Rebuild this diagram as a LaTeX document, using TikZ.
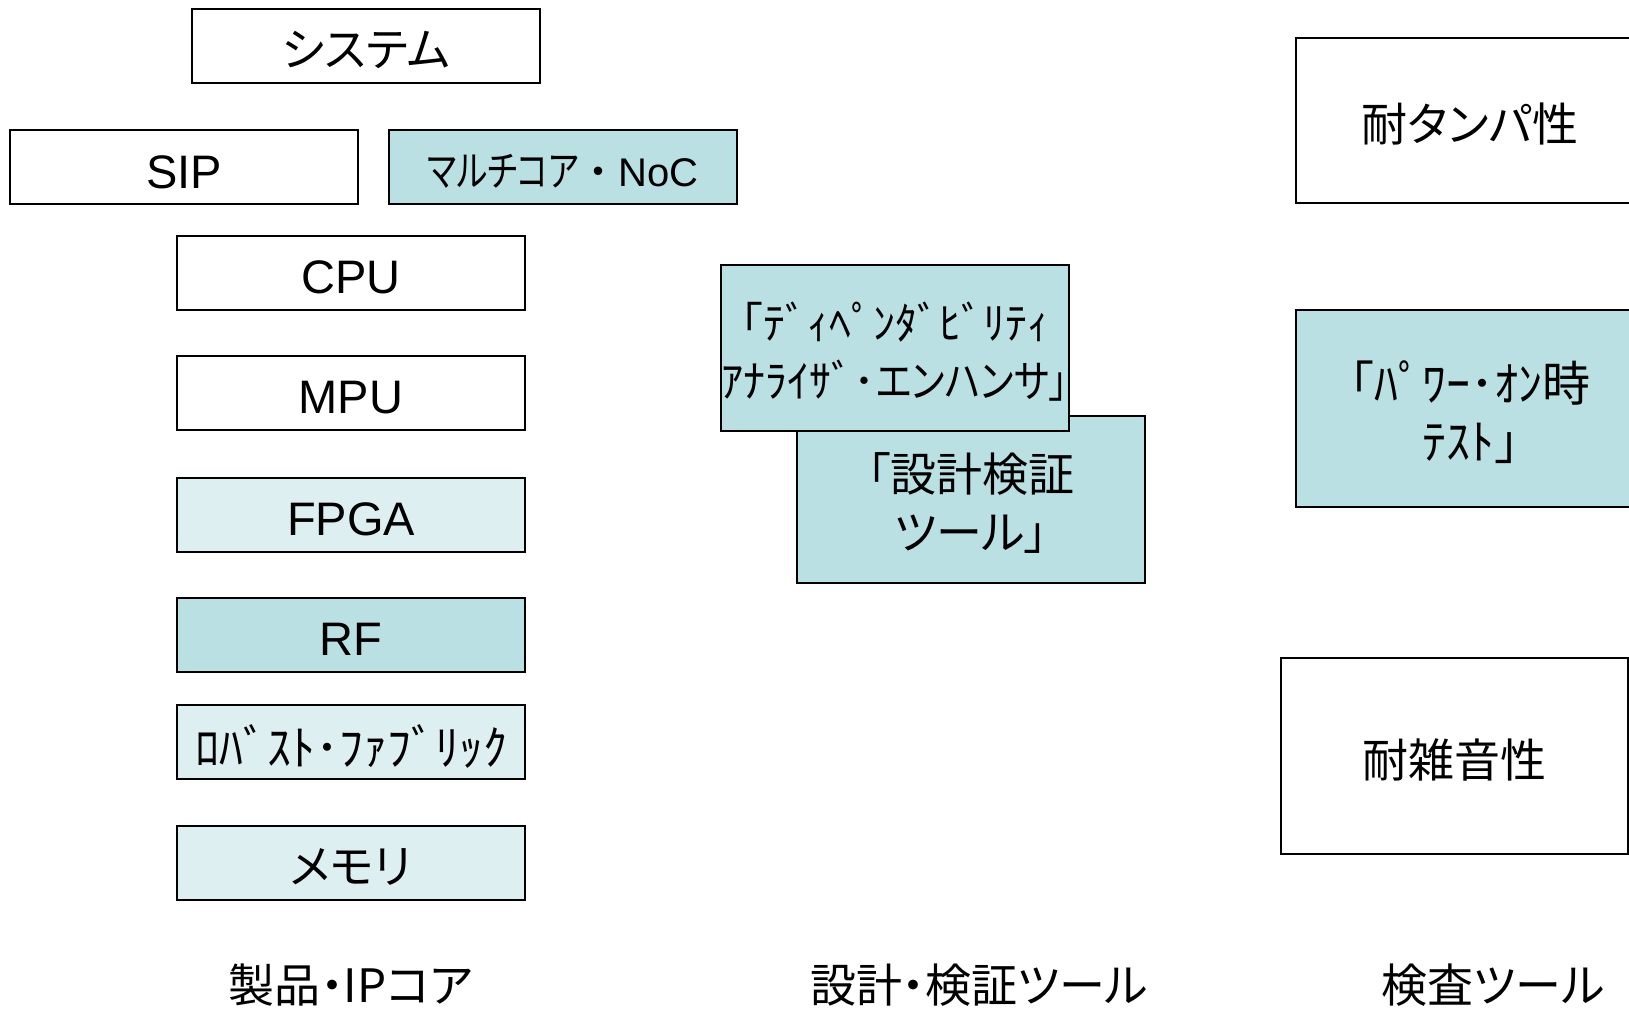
\documentclass[tikz,border=0pt]{standalone}
\usepackage{graphicx}
\usepackage{fontspec}
\setmainfont{Liberation Sans}
\newfontfamily\jp[RawFeature={+palt}]{Noto Sans CJK JP}
\newfontfamily\jph{Noto Sans CJK JP}
\definecolor{tealfill}{RGB}{186,224,227}
\definecolor{lightfill}{RGB}{222,239,242}
\begin{document}
\begin{tikzpicture}[x=0.5pt,y=-0.5pt,
  box/.style={draw=black,line width=1pt,inner sep=0pt,minimum width=174pt,minimum height=37pt},
  txt/.style={inner sep=0pt,align=center},
  lat/.style={txt,font=\fontsize{23.5}{29}\selectfont},
  jpt/.style={txt,font=\jp\fontsize{23}{29}\selectfont},
  jph/.style={txt,font=\jph\fontsize{23}{29}\selectfont},
  tealbox/.style={fill=tealfill},
  lightbox/.style={fill=lightfill},
  lbl/.style={inner sep=0pt,font=\jp\fontsize{23}{29}\selectfont}]
\useasboundingbox[fill=white] (0,0) rectangle (1629,1008);
% left column boxes
\node[box] (sys) at (366,45.5) {};
\node[box] (sip) at (184,167) {};
\node[box,tealbox] (noc) at (563,167) {};
\node[box] (cpu) at (351,272.5) {};
\node[box] (mpu) at (351,393) {};
\node[box,lightbox] (fpga) at (351,514.5) {};
\node[box,tealbox] (rf) at (351,634.5) {};
\node[box,lightbox] (rob) at (351,741.5) {};
\node[box,lightbox] (mem) at (351,862.5) {};
% middle column boxes
\node[box,tealbox,minimum height=83.5pt] (verif) at (971,499) {};
\node[box,tealbox,minimum height=83pt] (dep) at (895,348) {};
% right column boxes
\node[box,minimum height=82.5pt] (tamp) at (1470,120.5) {};
\node[box,tealbox,minimum height=98.5pt] (pwr) at (1470,408.5) {};
\node[box,minimum width=173.5pt,minimum height=98pt] (noise) at (1454.5,756) {};
% texts
\node[jpt] (sys-t) at ([yshift=-2.2pt]sys.center) {システム};
\node[lat] (sip-t) at ([yshift=-2.5pt]sip.center) {SIP};
\node[txt] (noc-t) at ([yshift=-2.4pt]noc.center) {\scalebox{0.78}[1]{\jp\fontsize{21}{26}\selectfont マルチコア}{\jph\fontsize{20}{26}\selectfont ・}{\fontsize{20}{26}\selectfont NoC}};
\node[lat] (cpu-t) at ([yshift=-2.5pt]cpu.center) {CPU};
\node[lat] (mpu-t) at ([yshift=-2.5pt]mpu.center) {MPU};
\node[lat] (fpga-t) at ([yshift=-2.5pt]fpga.center) {FPGA};
\node[lat] (rf-t) at ([yshift=-2.5pt]rf.center) {RF};
\node[jph,font=\jph\fontsize{24}{29}\selectfont] (rob-t) at ([yshift=-2.4pt]rob.center) {ﾛﾊﾞｽﾄ･ﾌｧﾌﾞﾘｯｸ};
\node[jpt] (mem-t) at ([yshift=-2.2pt]mem.center) {メモリ};
\node[jpt] (verif-t) at ([yshift=-2pt]verif.center) {「設計検証\\ツール」};
\node[jph,font=\jph\fontsize{22}{29}\selectfont] (dep-t) at ([yshift=-1.6pt]dep.center) {｢ﾃﾞｨﾍﾟﾝﾀﾞﾋﾞﾘﾃｨ\\ｱﾅﾗｲｻﾞ･\scalebox{0.85}[1]{\jp エンハンサ」}};
\node[jpt] (tamp-t) at ([yshift=-2pt]tamp.center) {耐タンパ性};
\node[jph,font=\jph\fontsize{24}{29}\selectfont] (pwr-t) at ([yshift=-1.6pt]pwr.center) {｢ﾊﾟﾜｰ･ｵﾝ時\\ﾃｽﾄ｣};
\node[jpt] (noise-t) at ([yshift=-2pt]noise.center) {耐雑音性};
% column labels
\node[lbl] (lab1) at (351,985) {製品・IPコア};
\node[lbl] (lab2) at (979,985) {設計・検証ツール};
\node[lbl] (lab3) at (1493,985) {検査ツール};
\end{tikzpicture}
\end{document}
